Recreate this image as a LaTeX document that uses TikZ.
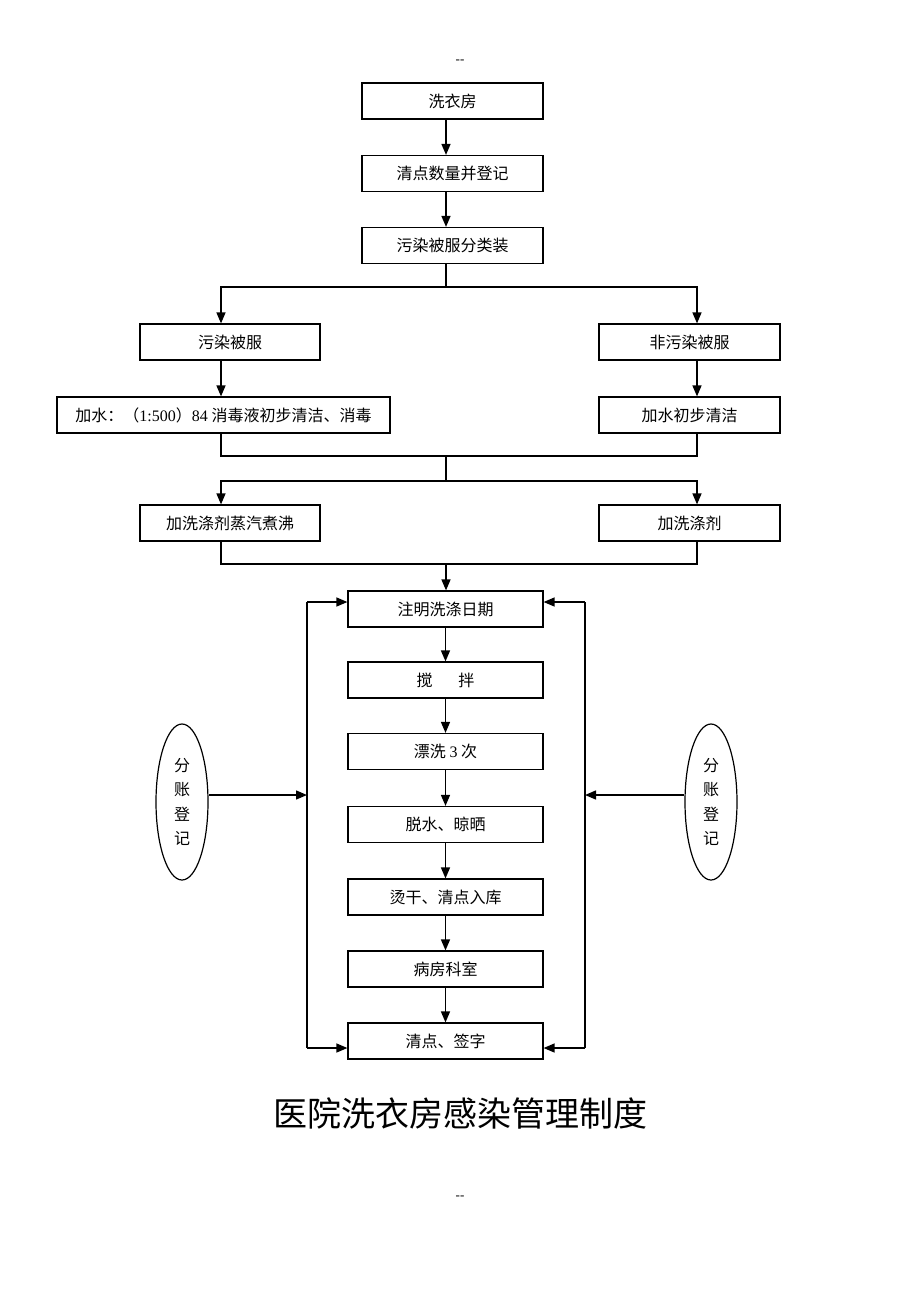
\documentclass[tikz,border=0pt]{standalone}
\usepackage{fontspec}
\setmainfont{Liberation Serif}
\newfontfamily\cjk{Noto Sans CJK SC}
\newfontfamily\latf{Liberation Serif}
\usetikzlibrary{arrows.meta,shapes.geometric}
\begin{document}
\begin{tikzpicture}[x=1pt,y=-1pt,
  box/.style={draw, line width=1.2pt, minimum height=36pt, inner sep=0pt, font=\cjk\fontsize{16}{18}\selectfont},
  arr/.style={line width=1.4pt, -{Triangle[length=11pt,width=9pt]}},
  ln/.style={line width=1.2pt},
  oval/.style={draw, ellipse, line width=1.2pt, minimum width=52pt, minimum height=156pt, inner sep=0pt, align=center, font=\cjk\fontsize{16}{24.5}\selectfont}]
\useasboundingbox (0,0) rectangle (920,1302);
\node[font=\latf\fontsize{13}{14}\selectfont] (dashtop) at (460,62) {-{}-};
\node[font=\latf\fontsize{13}{14}\selectfont] (dashbot) at (460,1198) {-{}-};

\node[box, minimum width=181pt] (wash) at (452.5,101) {洗衣房};
\node[box, minimum width=181pt] (count) at (452.5,173.5) {清点数量并登记};
\node[box, minimum width=181pt] (sort) at (452.5,245.5) {污染被服分类装};
\node[box, minimum width=180pt] (pol) at (230,342) {污染被服};
\node[box, minimum width=181pt] (npol) at (689.5,342) {非污染被服};
\node[box, minimum width=333pt] (dis) at (223.5,415) {加水：（{\latf 1:500}）{\latf 84} 消毒液初步清洁、消毒};
\node[box, minimum width=181pt] (rin) at (689.5,415) {加水初步清洁};
\node[box, minimum width=180pt] (boil) at (230,523) {加洗涤剂蒸汽煮沸};
\node[box, minimum width=181pt] (det) at (689.5,523) {加洗涤剂};

\node[box, minimum width=195pt] (date) at (445.5,609) {注明洗涤日期};
\node[box, minimum width=195pt] (stir) at (445.5,680) {搅\hspace{1.6em}拌};
\node[box, minimum width=195pt] (rinse) at (445.5,751.5) {漂洗 {\latf 3} 次};
\node[box, minimum width=195pt] (dry) at (445.5,824.5) {脱水、晾晒};
\node[box, minimum width=195pt] (iron) at (445.5,897) {烫干、清点入库};
\node[box, minimum width=195pt] (ward) at (445.5,969) {病房科室};
\node[box, minimum width=195pt] (sign) at (445.5,1041) {清点、签字};

\node[oval] (el) at (182,802) {分\\账\\登\\记};
\node[oval] (er) at (711,802) {分\\账\\登\\记};

\node[font=\cjk\fontsize{34}{40}\selectfont] (title) at (460,1113) {医院洗衣房感染管理制度};

\coordinate (cx) at (446,0);
\coordinate (lx) at (221,0);
\coordinate (rx) at (697,0);
\coordinate (ll) at (307,0);
\coordinate (rl) at (585,0);

\draw[arr] (wash.south -| cx) -- (count.north -| cx);
\draw[arr] (count.south -| cx) -- (sort.north -| cx);
\coordinate (b1) at (446,287);
\draw[ln] (sort.south -| cx) -- (b1);
\draw[arr] (b1) -| (pol.north -| lx);
\draw[arr] (b1) -| (npol.north -| rx);
\draw[arr] (pol.south -| lx) -- (dis.north -| lx);
\draw[arr] (npol.south -| rx) -- (rin.north -| rx);

\coordinate (j1) at (446,456);
\draw[ln] (dis.south -| lx) |- (j1) -| (rin.south -| rx);
\coordinate (b2) at (446,481);
\draw[ln] (j1) -- (b2);
\draw[arr] (b2) -| (boil.north -| lx);
\draw[arr] (b2) -| (det.north -| rx);

\coordinate (j2) at (446,564);
\draw[ln] (boil.south -| lx) |- (j2) -| (det.south -| rx);
\draw[arr] (j2) -- (date.north -| cx);

\draw[arr] (date) -- (stir);
\draw[arr] (stir) -- (rinse);
\draw[arr] (rinse) -- (dry);
\draw[arr] (dry) -- (iron);
\draw[arr] (iron) -- (ward);
\draw[arr] (ward) -- (sign);

\coordinate (dl) at ([yshift=7pt]date.west);
\coordinate (sl) at ([yshift=-7pt]sign.west);
\coordinate (dr) at ([yshift=7pt]date.east);
\coordinate (sr) at ([yshift=-7pt]sign.east);
\draw[ln] (dl -| ll) -- (sl -| ll);
\draw[arr] (dl -| ll) -- (dl);
\draw[arr] (sl -| ll) -- (sl);
\draw[ln] (dr -| rl) -- (sr -| rl);
\draw[arr] (dr -| rl) -- (dr);
\draw[arr] (sr -| rl) -- (sr);

\path (el.east) ++(0,-7) coordinate (ea);
\path (er.west) ++(0,-7) coordinate (eb);
\draw[arr] (ea) -- (ea -| ll);
\draw[arr] (eb) -- (eb -| rl);
\end{tikzpicture}
\end{document}
